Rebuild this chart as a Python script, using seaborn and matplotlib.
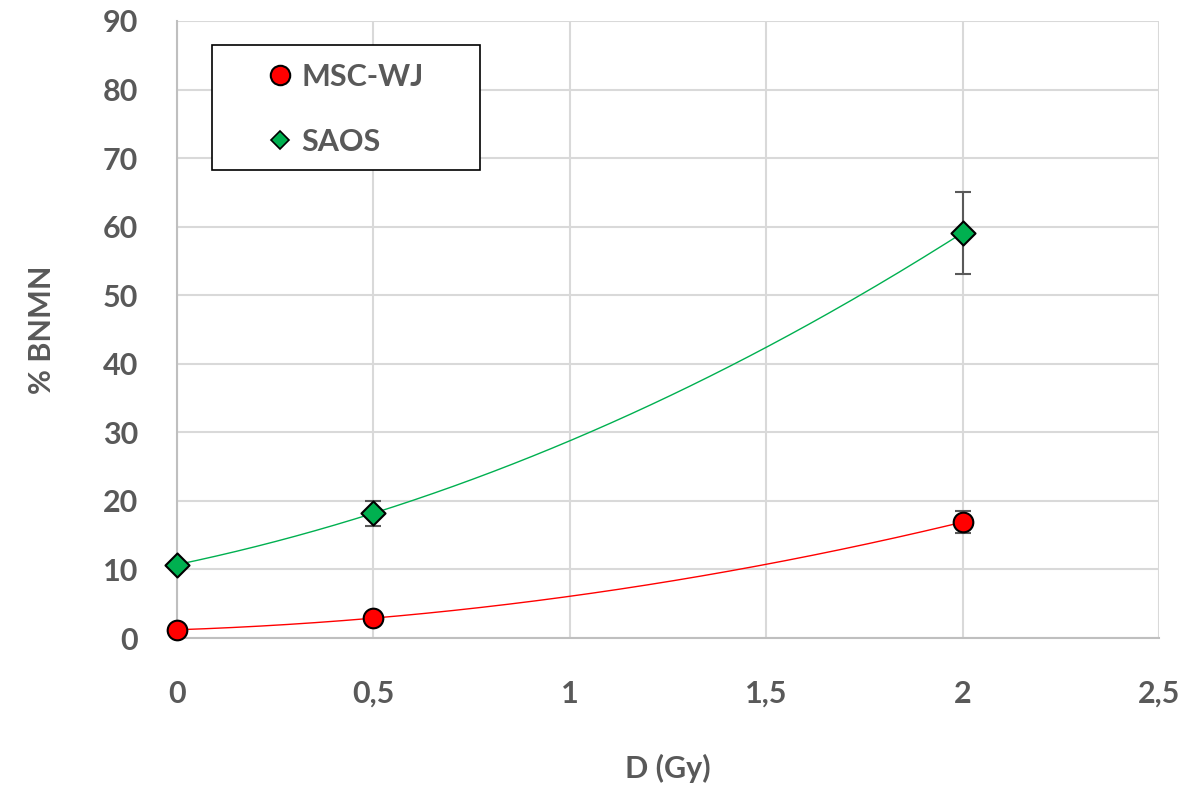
import numpy as np
import pandas as pd
import matplotlib
matplotlib.use("Agg")
import matplotlib.pyplot as plt
import seaborn as sns
from matplotlib.lines import Line2D
from matplotlib.patches import Rectangle

# Datos
dosis = [0, 0.5, 2]
msc_wj = [1.2, 2.9, 16.9]
msc_wj_err = [0.0, 0.0, 1.65]
saos = [10.7, 18.2, 59.1]
saos_err = [0.0, 1.8, 6.0]

gris = "#595959"
rojo = "#ff0000"
verde = "#00b050"

W, H = 1186, 788
x0, x1, y0, y1 = 177, 1159, 21, 638   # área de trazado en píxeles


def frac(px, py):
    """Píxeles de la imagen -> fracción de los ejes"""
    return (px - x0) / (x1 - x0), (y1 - py) / (y1 - y0)


sns.set_theme(style="whitegrid")
plt.rcParams["font.family"] = ["Lato", "DejaVu Sans"]

fig = plt.figure(figsize=(W / 100, H / 100), dpi=100)
ax = fig.add_axes([x0 / W, 1 - y1 / H, (x1 - x0) / W, (y1 - y0) / H])
ax.set_facecolor("white")

# Curvas de ajuste polinómico (grado 2), como en Excel
xs = np.linspace(0, 2, 200)
df_curvas = pd.DataFrame({
    "x": np.concatenate([xs, xs]),
    "y": np.concatenate([np.polyval(np.polyfit(dosis, msc_wj, 2), xs),
                         np.polyval(np.polyfit(dosis, saos, 2), xs)]),
    "serie": ["MSC-WJ"] * len(xs) + ["SAOS"] * len(xs),
})
sns.lineplot(data=df_curvas, x="x", y="y", hue="serie",
             palette={"MSC-WJ": rojo, "SAOS": verde}, linewidth=1.0,
             legend=False, ax=ax, zorder=3)

# Barras de error
for valores, errores in [(msc_wj, msc_wj_err), (saos, saos_err)]:
    ax.errorbar(dosis, valores, yerr=errores, fmt="none", ecolor=gris,
                elinewidth=1.5, capsize=6, capthick=1.5, zorder=4)

# Puntos
sns.scatterplot(x=dosis, y=msc_wj, marker="o", s=200, color=rojo,
                edgecolor="black", linewidth=1.5, ax=ax, zorder=5, clip_on=False)
sns.scatterplot(x=dosis, y=saos, marker="D", s=150, color=verde,
                edgecolor="black", linewidth=1.5, ax=ax, zorder=5, clip_on=False)

ax.set_xlim(0, 2.5)
ax.set_ylim(0, 90)
ax.set_xticks([0, 0.5, 1, 1.5, 2, 2.5])
ax.set_xticklabels(["0", "0,5", "1", "1,5", "2", "2,5"])
ax.set_yticks(range(0, 91, 10))

ax.grid(True, color="#d9d9d9", linewidth=1.5)
for lado in ["top", "right"]:
    ax.spines[lado].set_visible(False)
for lado in ["left", "bottom"]:
    ax.spines[lado].set_color("#bfbfbf")
    ax.spines[lado].set_linewidth(1.5)

ax.tick_params(axis="both", length=0, labelsize=22, labelcolor=gris)
ax.tick_params(axis="x", pad=30)
ax.tick_params(axis="y", pad=28)
for t in ax.get_xticklabels() + ax.get_yticklabels():
    t.set_fontweight("bold")

ax.set_xlabel("D (Gy)", fontsize=22, fontweight="bold", color=gris, labelpad=33)
ax.set_ylabel("% BNMN", fontsize=22, fontweight="bold", color=gris, labelpad=34)

# Leyenda: marco aparte y entradas sin marco
bx, by = frac(212, 170)
bw = (480 - 212) / (x1 - x0)
bh = (170 - 45) / (y1 - y0)
ax.add_patch(Rectangle((bx, by), bw, bh, transform=ax.transAxes,
                       facecolor="white", edgecolor="black", linewidth=1.2,
                       zorder=6))

handles = [
    Line2D([], [], marker="o", linestyle="none", markersize=14,
           markerfacecolor=rojo, markeredgecolor="black", markeredgewidth=1.5),
    Line2D([], [], marker="D", linestyle="none", markersize=9,
           markerfacecolor=verde, markeredgecolor="black", markeredgewidth=1.2),
]
leg = ax.legend(handles, ["MSC-WJ", "SAOS"], loc="upper left",
                bbox_to_anchor=frac(268, 63), frameon=False,
                borderpad=0, labelspacing=1.2, handletextpad=0.3,
                borderaxespad=0, handlelength=0.8,
                prop={"size": 22, "weight": "bold"})
leg.set_zorder(7)
for t in leg.get_texts():
    t.set_color(gris)

fig.savefig("out.png", dpi=100)
